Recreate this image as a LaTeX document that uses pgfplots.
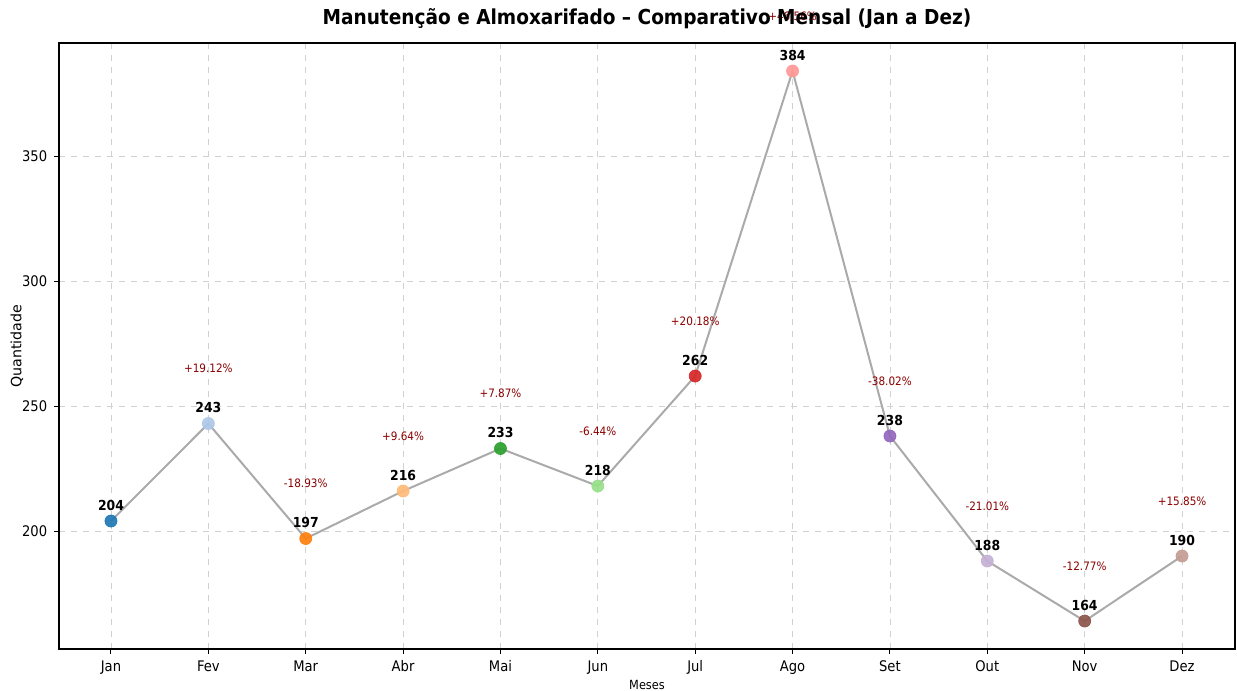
\documentclass[border=0pt]{standalone}
\usepackage{pgfplots}
\pgfplotsset{compat=1.18}
\usepackage{fontspec}
\setmainfont{DejaVu Sans Condensed}
\newfontfamily\wide{DejaVu Sans}
\definecolor{c1}{HTML}{1F77B4}
\definecolor{c2}{HTML}{AEC7E8}
\definecolor{c3}{HTML}{FF7F0E}
\definecolor{c4}{HTML}{FFBB78}
\definecolor{c5}{HTML}{2CA02C}
\definecolor{c6}{HTML}{98DF8A}
\definecolor{c7}{HTML}{D62728}
\definecolor{c8}{HTML}{FF9896}
\definecolor{c9}{HTML}{9467BD}
\definecolor{c10}{HTML}{C5B0D5}
\definecolor{c11}{HTML}{8C564B}
\definecolor{c12}{HTML}{C49C94}
\definecolor{lg}{HTML}{AAAAAA}
\definecolor{pct}{HTML}{8B0000}
\begin{document}
\begin{tikzpicture}
\begin{axis}[
  scale only axis, width=588pt, height=303pt,
  xmin=-0.534, xmax=11.544, ymin=152.8, ymax=395.2,
  xtick={0,...,11},
  xticklabels={Jan,Fev,Mar,Abr,Mai,Jun,Jul,Ago,Set,Out,Nov,Dez},
  ytick={200,250,300,350},
  xtick pos=bottom, ytick pos=left,
  tick align=outside, major tick length=2.4pt,
  tick style={black, line width=0.5pt},
  axis line style={line width=0.6pt},
  grid=major, grid style={dashed, black!18, line width=0.4pt},
  /pgf/number format/assume math mode=true,
  ticklabel style={font=\fontsize{7.3}{8}\selectfont},
  xlabel={Meses}, ylabel={Quantidade},
  xlabel style={font=\fontsize{6.3}{7}\selectfont, at={(axis description cs:0.5,0)}, anchor=center, yshift=-18pt},
  ylabel style={font=\wide\fontsize{7.1}{8}\selectfont, at={(axis description cs:-0.0357,0.5)}, anchor=center},
  title={Manutenção e Almoxarifado – Comparativo Mensal (Jan a Dez)},
  title style={font=\bfseries\fontsize{10.3}{11}\selectfont, at={(axis description cs:0.5,1)}, anchor=base, inner sep=0pt, yshift=3.5pt},
  clip=false,
]
\coordinate (bl) at (rel axis cs:-0.05017,-0.0677);
\coordinate (tr) at (rel axis cs:1.0017,1.0710);
\addplot[color=lg, line width=1pt, mark=none] coordinates {
  (0,204) (1,243) (2,197) (3,216) (4,233) (5,218) (6,262) (7,384) (8,238) (9,188) (10,164) (11,190)
};
\addplot[scatter, only marks, mark=*, mark size=3pt, opacity=0.92,
  point meta=explicit symbolic,
  scatter/classes={
    a={draw=c1,fill=c1}, b={draw=c2,fill=c2}, c={draw=c3,fill=c3}, d={draw=c4,fill=c4},
    e={draw=c5,fill=c5}, f={draw=c6,fill=c6}, g={draw=c7,fill=c7}, h={draw=c8,fill=c8},
    i={draw=c9,fill=c9}, j={draw=c10,fill=c10}, k={draw=c11,fill=c11}, l={draw=c12,fill=c12}}
] coordinates {
  (0,204) [a] (1,243) [b] (2,197) [c] (3,216) [d] (4,233) [e] (5,218) [f]
  (6,262) [g] (7,384) [h] (8,238) [i] (9,188) [j] (10,164) [k] (11,190) [l]
};
\addplot[draw=none, mark=none, nodes near coords, point meta=explicit symbolic,
  every node near coord/.append style={font=\bfseries\fontsize{6.9}{8}\selectfont, text=black, anchor=south, inner sep=0pt, yshift=5pt}
] coordinates {
  (0,204) [204] (1,243) [243] (2,197) [197] (3,216) [216] (4,233) [233] (5,218) [218]
  (6,262) [262] (7,384) [384] (8,238) [238] (9,188) [188] (10,164) [164] (11,190) [190]
};
\addplot[draw=none, mark=none, nodes near coords, point meta=explicit symbolic,
  every node near coord/.append style={font=\fontsize{5.8}{7}\selectfont, text=pct, anchor=center, inner sep=0pt}
] coordinates {
  (1,265) [+19.12\%] (2,219) [-18.93\%] (3,238) [+9.64\%] (4,255) [+7.87\%] (5,240) [-6.44\%]
  (6,284) [+20.18\%] (7,406) [+46.56\%] (8,260) [-38.02\%] (9,210) [-21.01\%] (10,186) [-12.77\%] (11,212) [+15.85\%]
};
\end{axis}
\pgfresetboundingbox
\path[use as bounding box] (bl) rectangle (tr);
\end{tikzpicture}
\end{document}
